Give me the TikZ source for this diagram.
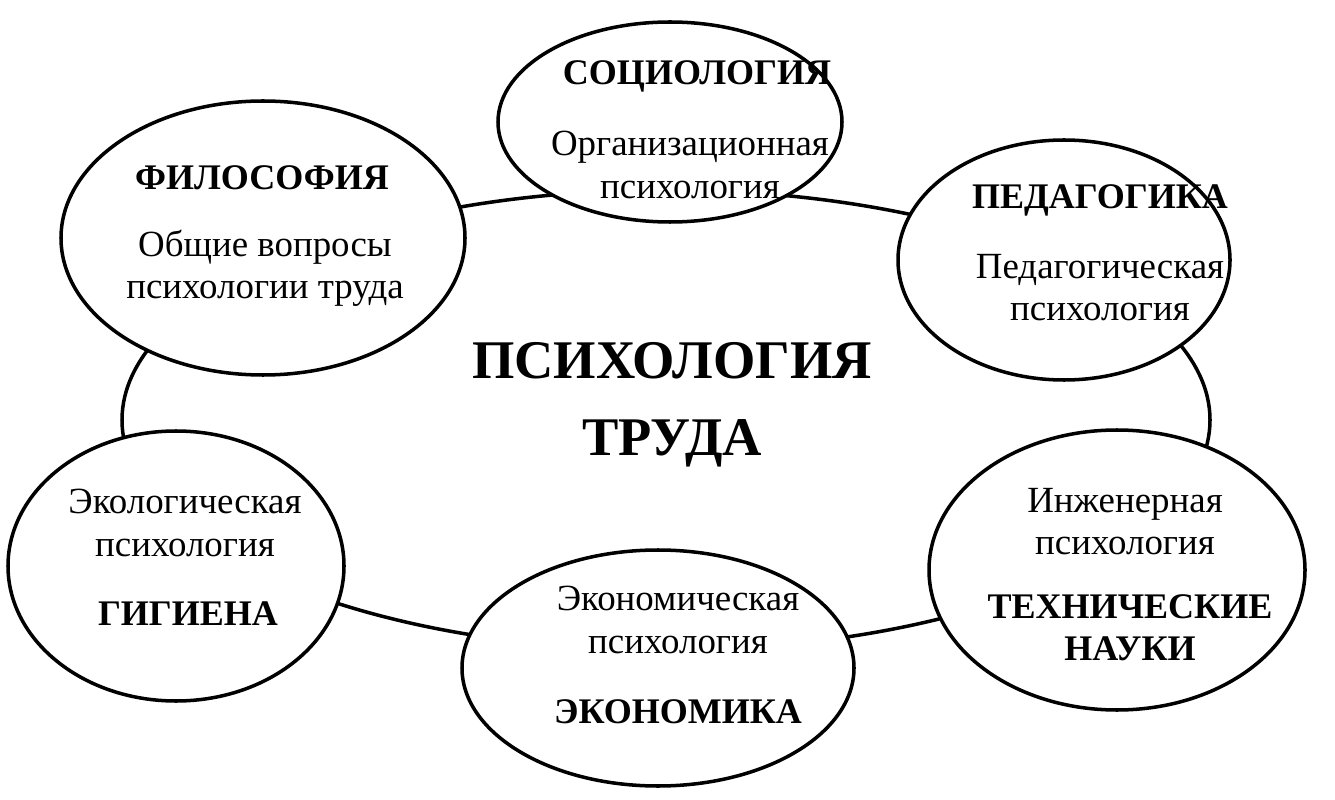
\documentclass[tikz,border=0pt]{standalone}
\usepackage{fontspec}
\setmainfont{Liberation Serif}
\usetikzlibrary{shapes.geometric}
\tikzset{
  field/.style={draw,line width=2pt,fill=white,ellipse,inner sep=0pt},
  title/.style={font=\fontsize{20.5}{24}\selectfont\bfseries,align=center},
  branch/.style={font=\fontsize{21}{24}\selectfont,align=center}
}
\begin{document}
\begin{tikzpicture}[x=0.02cm,y=-0.02cm]
  \useasboundingbox (0,0) rectangle (1335,800);
  \node[field,minimum width=1088*0.02cm,minimum height=460*0.02cm] (work) at (666,420) {};
  \node[font=\fontsize{31}{44}\selectfont\bfseries,align=center] (worklbl) at (672,405) {ПСИХОЛОГИЯ\\ТРУДА};
  % surrounding fields
  \node[field,minimum width=344*0.02cm,minimum height=200*0.02cm] (soc) at (670,122) {};
  \node[field,minimum width=404*0.02cm,minimum height=274*0.02cm] (phil) at (263,238) {};
  \node[field,minimum width=332*0.02cm,minimum height=240*0.02cm] (ped) at (1064,260) {};
  \node[field,minimum width=336*0.02cm,minimum height=270*0.02cm] (hyg) at (176,566) {};
  \node[field,minimum width=392*0.02cm,minimum height=236*0.02cm] (econ) at (658,668) {};
  \node[field,minimum width=376*0.02cm,minimum height=280*0.02cm] (tech) at (1117,570) {};
  % labels
  \node[title] (soct) at (697,76) {СОЦИОЛОГИЯ};
  \node[branch] (socb) at (690,165) {Организационная\\психология};
  \node[title] (philt) at (262,178) {ФИЛОСОФИЯ};
  \node[branch] (philb) at (265,268) {Общие вопросы\\психологии труда};
  \node[title] (pedt) at (1100,200) {ПЕДАГОГИКА};
  \node[branch] (pedb) at (1100,288) {Педагогическая\\психология};
  \node[branch] (hygb) at (185,523) {Экологическая\\психология};
  \node[title] (hygt) at (188,614) {ГИГИЕНА};
  \node[branch] (econb) at (678,620) {Экономическая\\психология};
  \node[title] (econt) at (678,712) {ЭКОНОМИКА};
  \node[branch] (techb) at (1125,522) {Инженерная\\психология};
  \node[title] (techt) at (1130,628) {ТЕХНИЧЕСКИЕ\\НАУКИ};
\end{tikzpicture}
\end{document}
